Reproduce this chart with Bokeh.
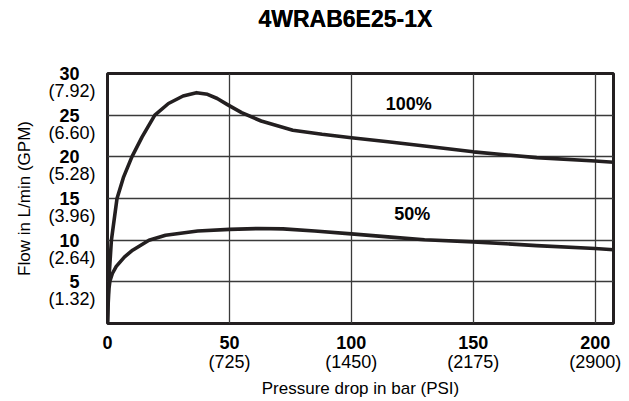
from bokeh.plotting import figure
from bokeh.models import Range1d, FixedTicker, LinearAxis, LabelSet, ColumnDataSource
from bokeh.core.properties import value
from bokeh.embed import file_html
from bokeh.resources import INLINE

# ---- data ----
title_text = "4WRAB6E25-1X"
x_label = "Pressure drop in bar (PSI)"
y_label = "Flow in L/min (GPM)"

x_ticks = [0, 50, 100, 150, 200]
x_psi = ["", "(725)", "(1450)", "(2175)", "(2900)"]
y_ticks = [5, 10, 15, 20, 25, 30]
y_gpm = ["(1.32)", "(2.64)", "(3.96)", "(5.28)", "(6.60)", "(7.92)"]

p100_bar = [0, 0.15, 0.5, 1.6, 3.9, 6.5, 10, 14.2, 19.4, 25, 31, 36.5, 41, 45, 49,
            55, 63, 76, 88, 100, 115, 130, 150, 176, 200, 207.5]
p100_flow = [0, 2.5, 5, 10, 15, 17.5, 20, 22.4, 25, 26.4, 27.3, 27.7, 27.5, 27.0, 26.3,
             25.3, 24.3, 23.2, 22.7, 22.3, 21.8, 21.3, 20.6, 19.9, 19.5, 19.35]

p50_bar = [0, 0.3, 0.6, 1.0, 2, 3.6, 7, 10.3, 17, 23.8, 37, 50, 62, 72, 85,
           100, 115, 130, 150, 176, 200, 207.5]
p50_flow = [0, 2.5, 4.2, 5.1, 6.0, 6.85, 8.0, 8.8, 10.0, 10.6, 11.1, 11.3, 11.4, 11.35, 11.1,
            10.75, 10.4, 10.05, 9.8, 9.35, 9.0, 8.85]

curve_names = ["100%", "50%"]
curve_label_bar = [123.5, 125.0]
curve_label_flow = [26.4, 13.1]

FONT = "Liberation Sans"
INK = "#231f20"
GPM_SHIFT = 2.1  # second label line sits one text line below its tick

p = figure(width=629, height=401, x_range=Range1d(0, 207.5), y_range=Range1d(0, 30),
           output_backend="svg", toolbar_location=None,
           min_border_left=107, min_border_right=16, min_border_top=73, min_border_bottom=78)

p.outline_line_color = INK
p.outline_line_width = 3
p.background_fill_color = "white"
p.border_fill_color = "white"

p.xgrid.ticker = FixedTicker(ticks=[50, 100, 150, 200])
p.ygrid.ticker = FixedTicker(ticks=[5, 10, 15, 20, 25])
for g in (p.xgrid[0], p.ygrid[0]):
    g.grid_line_color = "#3a3a3a"
    g.grid_line_width = 1.3


def plain_axis(ax):
    ax.axis_line_color = None
    ax.major_tick_line_color = None
    ax.minor_tick_line_color = None
    ax.major_tick_out = 0
    ax.major_tick_in = 0
    ax.minor_tick_out = 0
    ax.minor_tick_in = 0
    ax.major_label_text_font = FONT
    ax.major_label_text_font_size = "18px"
    ax.major_label_text_color = "black"
    ax.axis_label_text_font = FONT
    ax.axis_label_text_font_style = "normal"
    ax.axis_label_text_font_size = "17px"
    ax.axis_label_text_color = "black"


# x axis: bold bar values
xa = p.below[0]
plain_axis(xa)
xa.ticker = FixedTicker(ticks=x_ticks)
xa.major_label_text_font_style = "bold"
xa.major_label_standoff = 12

# second x axis: PSI values and axis title
xa2 = LinearAxis(ticker=FixedTicker(ticks=x_ticks),
                 major_label_overrides={float(t): s for t, s in zip(x_ticks, x_psi)},
                 axis_label=x_label)
plain_axis(xa2)
xa2.major_label_standoff = 0
xa2.axis_label_standoff = 4
p.add_layout(xa2, "below")

# y axis: bold L/min values
ya = p.left[0]
plain_axis(ya)
ya.ticker = FixedTicker(ticks=y_ticks)
ya.major_label_text_font_style = "bold"
ya.major_label_standoff = 28

# second y axis: GPM values (one line lower) and axis title
gpm_pos = [round(t - GPM_SHIFT, 2) for t in y_ticks]
ya2 = LinearAxis(ticker=FixedTicker(ticks=gpm_pos),
                 major_label_overrides={float(t): s for t, s in zip(gpm_pos, y_gpm)},
                 axis_label=y_label)
plain_axis(ya2)
ya2.major_label_standoff = -39
ya2.axis_label_standoff = 11
p.add_layout(ya2, "left")

# title, kept up at the top by an empty spacer band above the frame
title = p.title
title.text = title_text
title.align = "left"
title.offset = 151
title.vertical_align = "top"
title.standoff = 8
title.text_font = FONT
title.text_font_style = "bold"
title.text_font_size = "23px"
title.text_color = "black"

spacer = LinearAxis(ticker=FixedTicker(ticks=[]), axis_line_color=None,
                    major_tick_line_color=None, minor_tick_line_color=None,
                    major_tick_out=34, major_tick_in=0, minor_tick_out=0, minor_tick_in=0,
                    major_label_standoff=0)
p.above = [spacer, title]

p.line(p100_bar, p100_flow, line_color=INK, line_width=3.6, line_join="round")
p.line(p50_bar, p50_flow, line_color=INK, line_width=3.6, line_join="round")

lbl_src = ColumnDataSource(dict(x=curve_label_bar, y=curve_label_flow, t=curve_names))
p.add_layout(LabelSet(x="x", y="y", text="t", source=lbl_src, text_align="center",
                      text_baseline="middle", text_font=value(FONT), text_font_style="bold",
                      text_font_size="18px", text_color="black"))

open("out.html", "w").write(file_html(p, INLINE))
